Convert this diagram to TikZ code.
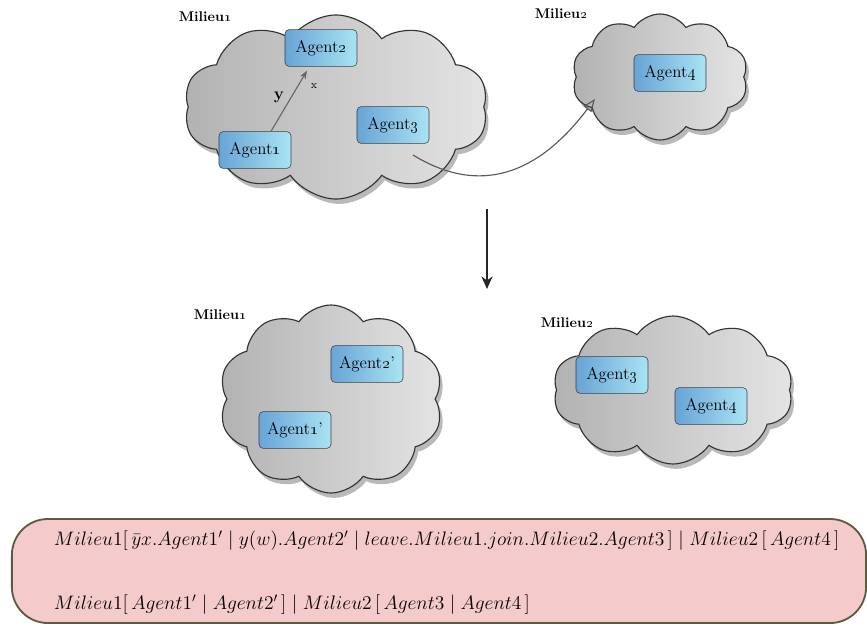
\documentclass[tikz,border=0pt]{standalone}
\usetikzlibrary{shapes.symbols,shadows,arrows.meta}

\definecolor{agentl}{HTML}{68A4D6}
\definecolor{agentr}{HTML}{A9E3F3}
\definecolor{cloudl}{HTML}{B2B2B2}
\definecolor{cloudr}{HTML}{E4E4E4}
\definecolor{formfill}{HTML}{F4CACB}
\definecolor{formdraw}{HTML}{5E5A42}

\begin{document}
\begin{tikzpicture}[x=0.025cm,y=-0.025cm,
  milieu/.style={cloud,cloud puffs=10,cloud puff arc=110,cloud ignores aspect,
    draw=black!80,thick,left color=cloudl,right color=cloudr,
    drop shadow={opacity=0.55,shadow xshift=0.5ex,shadow yshift=-0.8ex}},
  agent/.style={rectangle,rounded corners=3pt,draw=black!75,
    left color=agentl,right color=agentr,
    minimum width=1.8cm,minimum height=0.92cm,font=\fontsize{12}{14}\selectfont},
  mlabel/.style={font=\bfseries},
  form/.style={anchor=west,font=\Large,scale=0.963}]

  \useasboundingbox (0,0) rectangle (867,625);

  % before
  \node[milieu,minimum width=7.6cm,minimum height=4.6cm] (m1) at (336,107) {};
  \node[milieu,minimum width=4.4cm,minimum height=3.15cm] (m2) at (660,77) {};
  \node[mlabel] (m1l) at (205,17) {Milieu\oldstylenums{1}};
  \node[mlabel] (m2l) at (561,14) {Milieu\oldstylenums{2}};

  \node[agent] (a2) at (321,48) {Agent\oldstylenums{2}};
  \node[agent] (a1) at (255,150) {Agent\oldstylenums{1}};
  \node[agent] (a3) at (393,125) {Agent\oldstylenums{3}};
  \node[agent] (a4) at (670,73) {Agent\oldstylenums{4}};

  \draw[-{Stealth[length=6pt]},black!60,thick] ([xshift=0.4cm]a1.north) -- ([xshift=-0.35cm,yshift=-0.1cm]a2.south);
  \node[font=\bfseries\large] (y) at (279,97) {y};
  \node[font=\footnotesize] (x) at (314,86) {x};

  \coordinate (leave) at (413,155);
  \coordinate (join) at (595,99);
  \draw[-{Triangle[open,length=9pt,width=7pt]},black!65,thick] (leave) .. controls (470,190) and (530,185) .. (join);

  % after
  \coordinate (top) at (487,209);
  \coordinate (bot) at (487,289);
  \draw[-{Stealth[length=9pt,width=8pt]},black!85,thick] (top) -- (bot);

  \node[milieu,minimum width=5.6cm,minimum height=4.7cm] (n1) at (331,399) {};
  \node[milieu,minimum width=6cm,minimum height=3.7cm] (n2) at (673,390) {};
  \node[mlabel] (n1l) at (220,315) {Milieu\oldstylenums{1}};
  \node[mlabel] (n2l) at (567,323) {Milieu\oldstylenums{2}};

  \node[agent] (b2) at (367,364) {Agent\oldstylenums{2}'};
  \node[agent] (b1) at (295,430) {Agent\oldstylenums{1}'};
  \node[agent] (b3) at (612,375) {Agent\oldstylenums{3}};
  \node[agent] (b4) at (711,406) {Agent\oldstylenums{4}};

  % formulas
  \node[rectangle,rounded corners=0.9cm,draw=formdraw,line width=1.3pt,fill=formfill,
    minimum width=21.35cm,minimum height=2.6cm] (box) at (439,571) {};
  \node[form] (f1) at (49,541) {$Milieu1[\,\bar{y}x.Agent1' \mid y(w).Agent2' \mid leave.Milieu1.join.Milieu2.Agent3\,] \mid Milieu2\,[\,Agent4\,]$};
  \node[form] (f2) at (49,605) {$Milieu1[\,Agent1' \mid Agent2'\,] \mid Milieu2\,[\,Agent3 \mid Agent4\,]$};

\end{tikzpicture}
\end{document}
